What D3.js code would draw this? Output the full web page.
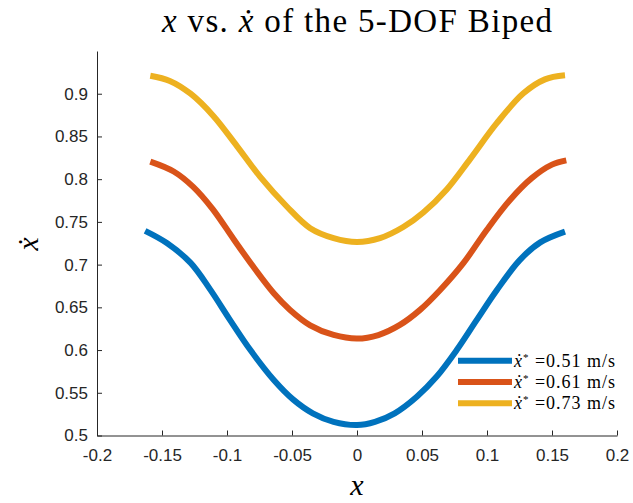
<!DOCTYPE html>
<html>
<head>
<meta charset="utf-8">
<script src="https://cdn.jsdelivr.net/npm/d3@7"></script>
<style>
  html, body { margin: 0; padding: 0; background: #fff; }
  svg { display: block; }
</style>
</head>
<body>
<svg id="chart" width="633" height="503"></svg>
<script>
// Phase portrait samples (x, xdot) for three target walking speeds
const blueX = [-0.163, -0.146, -0.128, -0.113, -0.098, -0.082, -0.064, -0.049, -0.034, -0.018, 0.0,
               0.0138, 0.029, 0.046, 0.0613, 0.0767, 0.092, 0.1075, 0.125, 0.141, 0.160];
const blueY = [0.7395, 0.725, 0.702, 0.671, 0.636, 0.600, 0.565, 0.542, 0.526, 0.516, 0.5123,
               0.516, 0.526, 0.5454, 0.569, 0.600, 0.635, 0.670, 0.705, 0.726, 0.7386];

const orangeX = [-0.159, -0.141, -0.126, -0.111, -0.095, -0.080, -0.064, -0.0515, -0.036, -0.018, 0.0,
                 0.0164, 0.033, 0.0485, 0.0638, 0.0818, 0.0998, 0.1177, 0.1344, 0.150, 0.161];
const orangeY = [0.8206, 0.809, 0.791, 0.765, 0.730, 0.698, 0.6665, 0.647, 0.629, 0.6177, 0.6135,
                 0.6176, 0.6294, 0.647, 0.670, 0.7017, 0.7406, 0.7757, 0.8012, 0.817, 0.822];

const yellowX = [-0.159, -0.144, -0.128, -0.1105, -0.0925, -0.0746, -0.054, -0.036, -0.018, 0.0,
                 0.0177, 0.0356, 0.051, 0.069, 0.087, 0.1075, 0.128, 0.1446, 0.160];
const yellowY = [0.921, 0.915, 0.900, 0.874, 0.839, 0.803, 0.768, 0.7426, 0.731, 0.7265,
                 0.731, 0.744, 0.761, 0.788, 0.8235, 0.8655, 0.9005, 0.9168, 0.9215];

const speeds = ["0.51", "0.61", "0.73"];
const colors = ["#0072BD", "#D95319", "#EDB120"];

const xTicks = [-0.2, -0.15, -0.1, -0.05, 0, 0.05, 0.1, 0.15, 0.2];
const xTickLabels = ["-0.2", "-0.15", "-0.1", "-0.05", "0", "0.05", "0.1", "0.15", "0.2"];
const yTicks = [0.5, 0.55, 0.6, 0.65, 0.7, 0.75, 0.8, 0.85, 0.9];
const yTickLabels = ["0.5", "0.55", "0.6", "0.65", "0.7", "0.75", "0.8", "0.85", "0.9"];

const series = [
  { xs: blueX, ys: blueY },
  { xs: orangeX, ys: orangeY },
  { xs: yellowX, ys: yellowY }
];

const svg = d3.select("#chart");
const plotLeft = 97, plotRight = 617, plotTop = 51, plotBottom = 435.5;

const x = d3.scaleLinear().domain([-0.2, 0.2]).range([plotLeft, plotRight]);
const y = d3.scaleLinear().domain([0.5, 0.95]).range([plotBottom, plotTop]);

const axisColor = "#262626";
const tickFont = "'Liberation Sans', Arial, sans-serif";
const serif = "'Liberation Serif', 'Times New Roman', serif";

// Curves
const line = d3.line().curve(d3.curveCatmullRom.alpha(0.5)).x(d => x(d[0])).y(d => y(d[1]));
series.forEach((s, i) => {
  const pts = s.xs.map((v, j) => [v, s.ys[j]]);
  svg.append("path")
    .attr("d", line(pts))
    .attr("fill", "none")
    .attr("stroke", colors[i])
    .attr("stroke-width", 6)
    .attr("stroke-linejoin", "round");
});

// Axes (ticks pointing inward)
const xAxis = d3.axisBottom(x).tickValues(xTicks)
  .tickFormat((d, i) => xTickLabels[i]).tickSizeInner(-5).tickSizeOuter(0).tickPadding(13);
const gx = svg.append("g").attr("transform", `translate(0,${plotBottom})`).call(xAxis);
gx.select(".domain").attr("stroke", axisColor).attr("stroke-width", 1);
gx.selectAll(".tick line").attr("stroke", axisColor);
gx.selectAll(".tick text").attr("fill", "#262626")
  .style("font-family", tickFont).style("font-size", "17px");

const yAxis = d3.axisLeft(y).tickValues(yTicks)
  .tickFormat((d, i) => yTickLabels[i]).tickSizeInner(-5).tickSizeOuter(0).tickPadding(9);
const gy = svg.append("g").attr("transform", `translate(${plotLeft},0)`).call(yAxis);
gy.select(".domain").attr("stroke", axisColor).attr("stroke-width", 1);
gy.selectAll(".tick line").attr("stroke", axisColor);
gy.selectAll(".tick text").attr("fill", "#262626")
  .style("font-family", tickFont).style("font-size", "17px");

// Title
const title = svg.append("text")
  .attr("x", 357).attr("y", 32)
  .attr("text-anchor", "middle")
  .attr("textLength", 390).attr("lengthAdjust", "spacing")
  .style("font-family", serif).style("font-size", "33px").attr("fill", "#000");
title.append("tspan").style("font-style", "italic").text("x");
title.append("tspan").text(" vs. ");
title.append("tspan").style("font-style", "italic").text("\u1E8B");
title.append("tspan").text(" of the 5-DOF Biped");

// Axis labels
svg.append("text")
  .attr("x", 357).attr("y", 495)
  .attr("text-anchor", "middle")
  .style("font-family", serif).style("font-size", "30px").style("font-style", "italic")
  .text("x");

svg.append("text")
  .attr("transform", "translate(38,244) rotate(-90)")
  .attr("text-anchor", "middle")
  .style("font-family", serif).style("font-size", "30px").style("font-style", "italic")
  .text("\u1E8B");

// Legend
const legendY = [360.7, 382, 403.3];
speeds.forEach((s, i) => {
  svg.append("line")
    .attr("x1", 458).attr("x2", 512)
    .attr("y1", legendY[i]).attr("y2", legendY[i])
    .attr("stroke", colors[i]).attr("stroke-width", 6);
  const t = svg.append("text")
    .attr("x", 514).attr("y", legendY[i] + 6)
    .attr("textLength", 101).attr("lengthAdjust", "spacing")
    .style("font-family", serif).style("font-size", "18px").attr("fill", "#000");
  t.append("tspan").style("font-style", "italic").text("\u1E8B");
  t.append("tspan").attr("dy", -6).style("font-size", "11px").text("*");
  t.append("tspan").attr("dy", 6).text(" =" + s + " m/s");
});
</script>
</body>
</html>
